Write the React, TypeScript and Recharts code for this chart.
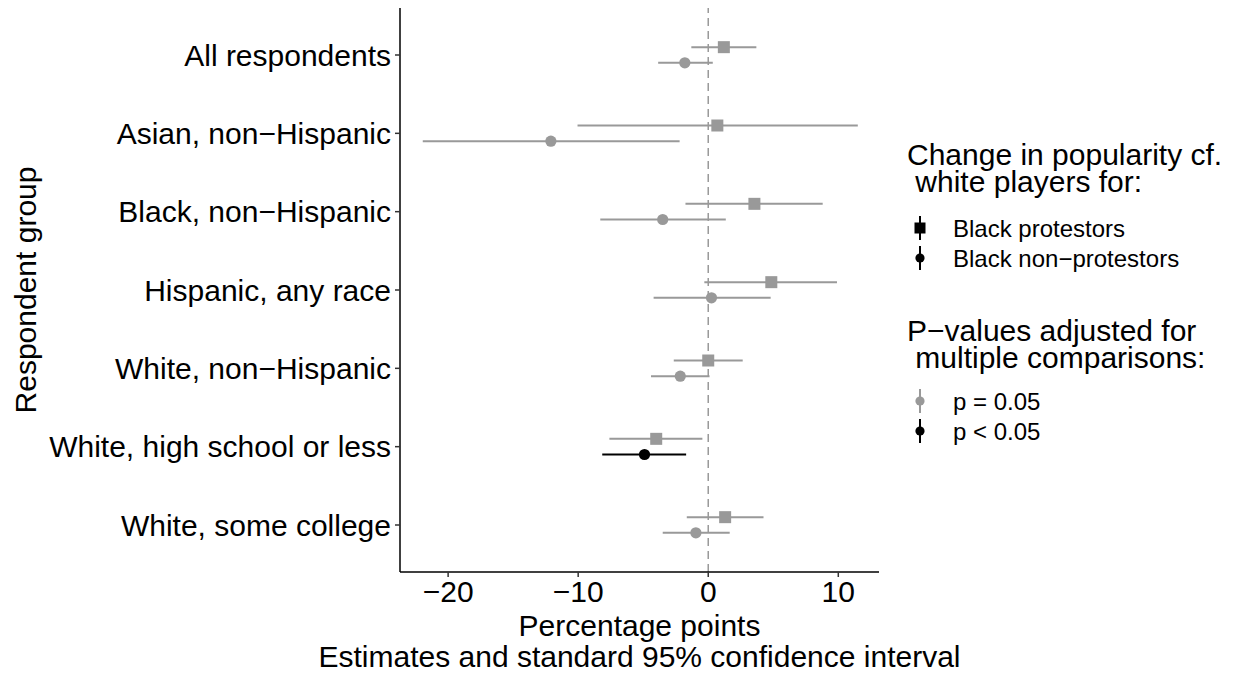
import React from 'react'
import { ScatterChart, Scatter, XAxis, YAxis, ErrorBar, ReferenceLine, Label } from 'recharts'

const groups = [
  'All respondents',
  'Asian, non−Hispanic',
  'Black, non−Hispanic',
  'Hispanic, any race',
  'White, non−Hispanic',
  'White, high school or less',
  'White, some college',
]

// Black protestors (squares)
const protestEst = [1.2, 0.7, 3.55, 4.85, 0, -4.0, 1.3]
const protestLo = [-1.3, -10.05, -1.75, -0.3, -2.65, -7.6, -1.65]
const protestHi = [3.7, 11.5, 8.8, 9.9, 2.65, -0.45, 4.25]

// Black non-protestors (circles)
const nonProtestEst = [-1.8, -12.1, -3.5, 0.25, -2.15, -4.9, -0.95]
const nonProtestLo = [-3.85, -21.95, -8.3, -4.2, -4.4, -8.15, -3.5]
const nonProtestHi = [0.35, -2.2, 1.35, 4.8, 0.1, -1.7, 1.65]
const nonProtestSig = [false, false, false, false, false, true, false]

const xTicks = [-20, -10, 0, 10]
const yTicks = groups.map((_, i) => i)

const GREY = '#999999'
const FONT = '"Liberation Sans", Arial, sans-serif'

const protestData = groups.map((g, i) => ({
  group: g,
  x: protestEst[i],
  y: i - 0.1,
  err: [protestEst[i] - protestLo[i], protestHi[i] - protestEst[i]],
}))

const nonProtestAll = groups.map((g, i) => ({
  group: g,
  x: nonProtestEst[i],
  y: i + 0.1,
  sig: nonProtestSig[i],
  err: [nonProtestEst[i] - nonProtestLo[i], nonProtestHi[i] - nonProtestEst[i]],
}))
const nonProtestGrey = nonProtestAll.filter((d) => !d.sig)
const nonProtestBlack = nonProtestAll.filter((d) => d.sig)

const fmtMinus = (v: number) => (v < 0 ? '−' + Math.abs(v) : String(v))

const square = (color: string) => (p: any) => (
  <rect x={p.cx - 6} y={p.cy - 6} width={12} height={12} fill={color} />
)
const dot = (color: string) => (p: any) => <circle cx={p.cx} cy={p.cy} r={5.6} fill={color} />

function KeyGlyph({ x, y, kind, color }: { x: number; y: number; kind: 'sq' | 'ci'; color: string }) {
  return (
    <g>
      <line x1={x} x2={x} y1={y - 12} y2={y + 12} stroke={color} strokeWidth={2} />
      {kind === 'sq' ? (
        <rect x={x - 5.5} y={y - 5.5} width={11} height={11} fill={color} />
      ) : (
        <circle cx={x} cy={y} r={4.6} fill={color} />
      )}
    </g>
  )
}

function LegendBox() {
  const t = { fontFamily: FONT, fontSize: 30, fill: '#000' }
  const s = { fontFamily: FONT, fontSize: 24, fill: '#000' }
  return (
    <svg width={345} height={330} style={{ position: 'absolute', left: 890, top: 130 }}>
      <text x={17} y={35} style={t}>Change in popularity cf.</text>
      <text x={17} y={62} style={t} xmlSpace="preserve"> white players for:</text>
      <KeyGlyph x={30} y={98} kind="sq" color="#000" />
      <text x={63} y={107} style={s}>Black protestors</text>
      <KeyGlyph x={30} y={128} kind="ci" color="#000" />
      <text x={63} y={137} style={s}>Black non−protestors</text>
      <text x={17} y={211} style={t}>P−values adjusted for</text>
      <text x={17} y={238} style={t} xmlSpace="preserve"> multiple comparisons:</text>
      <KeyGlyph x={30} y={271} kind="ci" color={GREY} />
      <text x={63} y={280} style={s}>p = 0.05</text>
      <KeyGlyph x={30} y={301} kind="ci" color="#000" />
      <text x={63} y={310} style={s}>p &lt; 0.05</text>
    </svg>
  )
}

export default function App() {
  return (
    <div style={{ position: 'absolute', left: 0, top: 0, width: 1235, height: 675, background: '#fff' }}>
      <ScatterChart width={1235} height={675} margin={{ top: 8, right: 356, bottom: 0, left: 0 }}>
        <XAxis
          type="number"
          dataKey="x"
          domain={[-23.7, 13.13]}
          allowDataOverflow
          ticks={xTicks}
          tickFormatter={fmtMinus}
          height={103}
          tickSize={5}
          tickMargin={4}
          axisLine={{ stroke: '#000', strokeWidth: 1.5 }}
          tickLine={{ stroke: '#333', strokeWidth: 1.5 }}
          tick={{ fill: '#000', fontSize: 30, fontFamily: FONT }}
        >
          <Label
            content={(props: any) => {
              const vb = props.viewBox
              const cx = vb.x + vb.width / 2
              return (
                <g style={{ fontFamily: FONT, fontSize: 30 }}>
                  <text x={cx} y={636} textAnchor="middle" fill="#000">Percentage points</text>
                  <text x={cx} y={667} textAnchor="middle" fill="#000">
                    Estimates and standard 95% confidence interval
                  </text>
                </g>
              )
            }}
          />
        </XAxis>
        <YAxis
          type="number"
          dataKey="y"
          domain={[-0.6, 6.6]}
          reversed
          allowDataOverflow
          ticks={yTicks}
          interval={0}
          tickFormatter={(v: number) => groups[v] ?? ''}
          width={400}
          tickSize={5}
          tickMargin={4}
          axisLine={{ stroke: '#000', strokeWidth: 1.5 }}
          tickLine={{ stroke: '#333', strokeWidth: 1.5 }}
          tick={{ fill: '#000', fontSize: 30, fontFamily: FONT }}
        >
          <Label
            content={(props: any) => {
              const vb = props.viewBox
              const cy = vb.y + vb.height / 2
              return (
                <text
                  x={36}
                  y={cy}
                  textAnchor="middle"
                  transform={`rotate(-90, 36, ${cy})`}
                  style={{ fontFamily: FONT, fontSize: 30 }}
                  fill="#000"
                >
                  Respondent group
                </text>
              )
            }}
          />
        </YAxis>
        <ReferenceLine x={0} stroke={GREY} strokeWidth={1.5} strokeDasharray="8 5" />
        <Scatter name="Black protestors" data={protestData} fill={GREY} shape={square(GREY)} isAnimationActive={false}>
          <ErrorBar dataKey="err" direction="x" width={0} stroke={GREY} strokeWidth={2} />
        </Scatter>
        <Scatter name="Black non-protestors" data={nonProtestGrey} fill={GREY} shape={dot(GREY)} isAnimationActive={false}>
          <ErrorBar dataKey="err" direction="x" width={0} stroke={GREY} strokeWidth={2} />
        </Scatter>
        <Scatter name="Black non-protestors (p < 0.05)" data={nonProtestBlack} fill="#000" shape={dot('#000')} isAnimationActive={false}>
          <ErrorBar dataKey="err" direction="x" width={0} stroke="#000" strokeWidth={2} />
        </Scatter>
      </ScatterChart>
      <LegendBox />
    </div>
  )
}
